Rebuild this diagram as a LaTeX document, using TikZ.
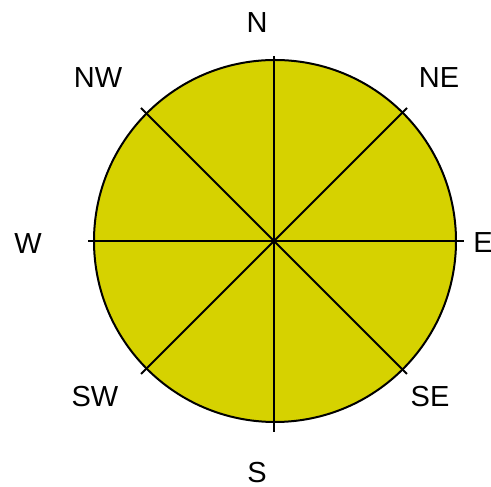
\documentclass[tikz,border=0pt]{standalone}
\usepackage{fontspec}
\setmainfont{Liberation Sans}
\definecolor{compassfill}{RGB}{214,210,0}
\begin{document}
\begin{tikzpicture}[x=1pt,y=1pt,
  dial/.style={circle,draw=black,line width=2pt,fill=compassfill,minimum size=362pt,inner sep=0pt},
  ray/.style={draw=black,line width=2pt},
  lbl/.style={font=\fontsize{29}{30}\selectfont,inner sep=0pt,anchor=center}]
\useasboundingbox (0,0) rectangle (491,487);
\node[dial] (c) at (275,246) {};
\coordinate (pN) at (274,431);
\coordinate (pS) at (274,55);
\coordinate (pW) at (88,246);
\coordinate (pE) at (464,246);
\coordinate (pNE) at (407,379);
\coordinate (pSW) at (141,113);
\coordinate (pNW) at (141,379);
\coordinate (pSE) at (407,113);
\draw[ray] (pN) -- (pS);
\draw[ray] (pW) -- (pE);
\draw[ray] (pNE) -- (pSW);
\draw[ray] (pNW) -- (pSE);
\node[lbl] (lN) at (257,464) {N};
\node[lbl] (lS) at (257,14) {S};
\node[lbl] (lE) at (483,244) {E};
\node[lbl] (lW) at (28,243) {W};
\node[lbl] (lNE) at (439,409) {NE};
\node[lbl] (lNW) at (98,409) {NW};
\node[lbl] (lSE) at (430,90) {SE};
\node[lbl] (lSW) at (95,90) {SW};
\end{tikzpicture}
\end{document}
